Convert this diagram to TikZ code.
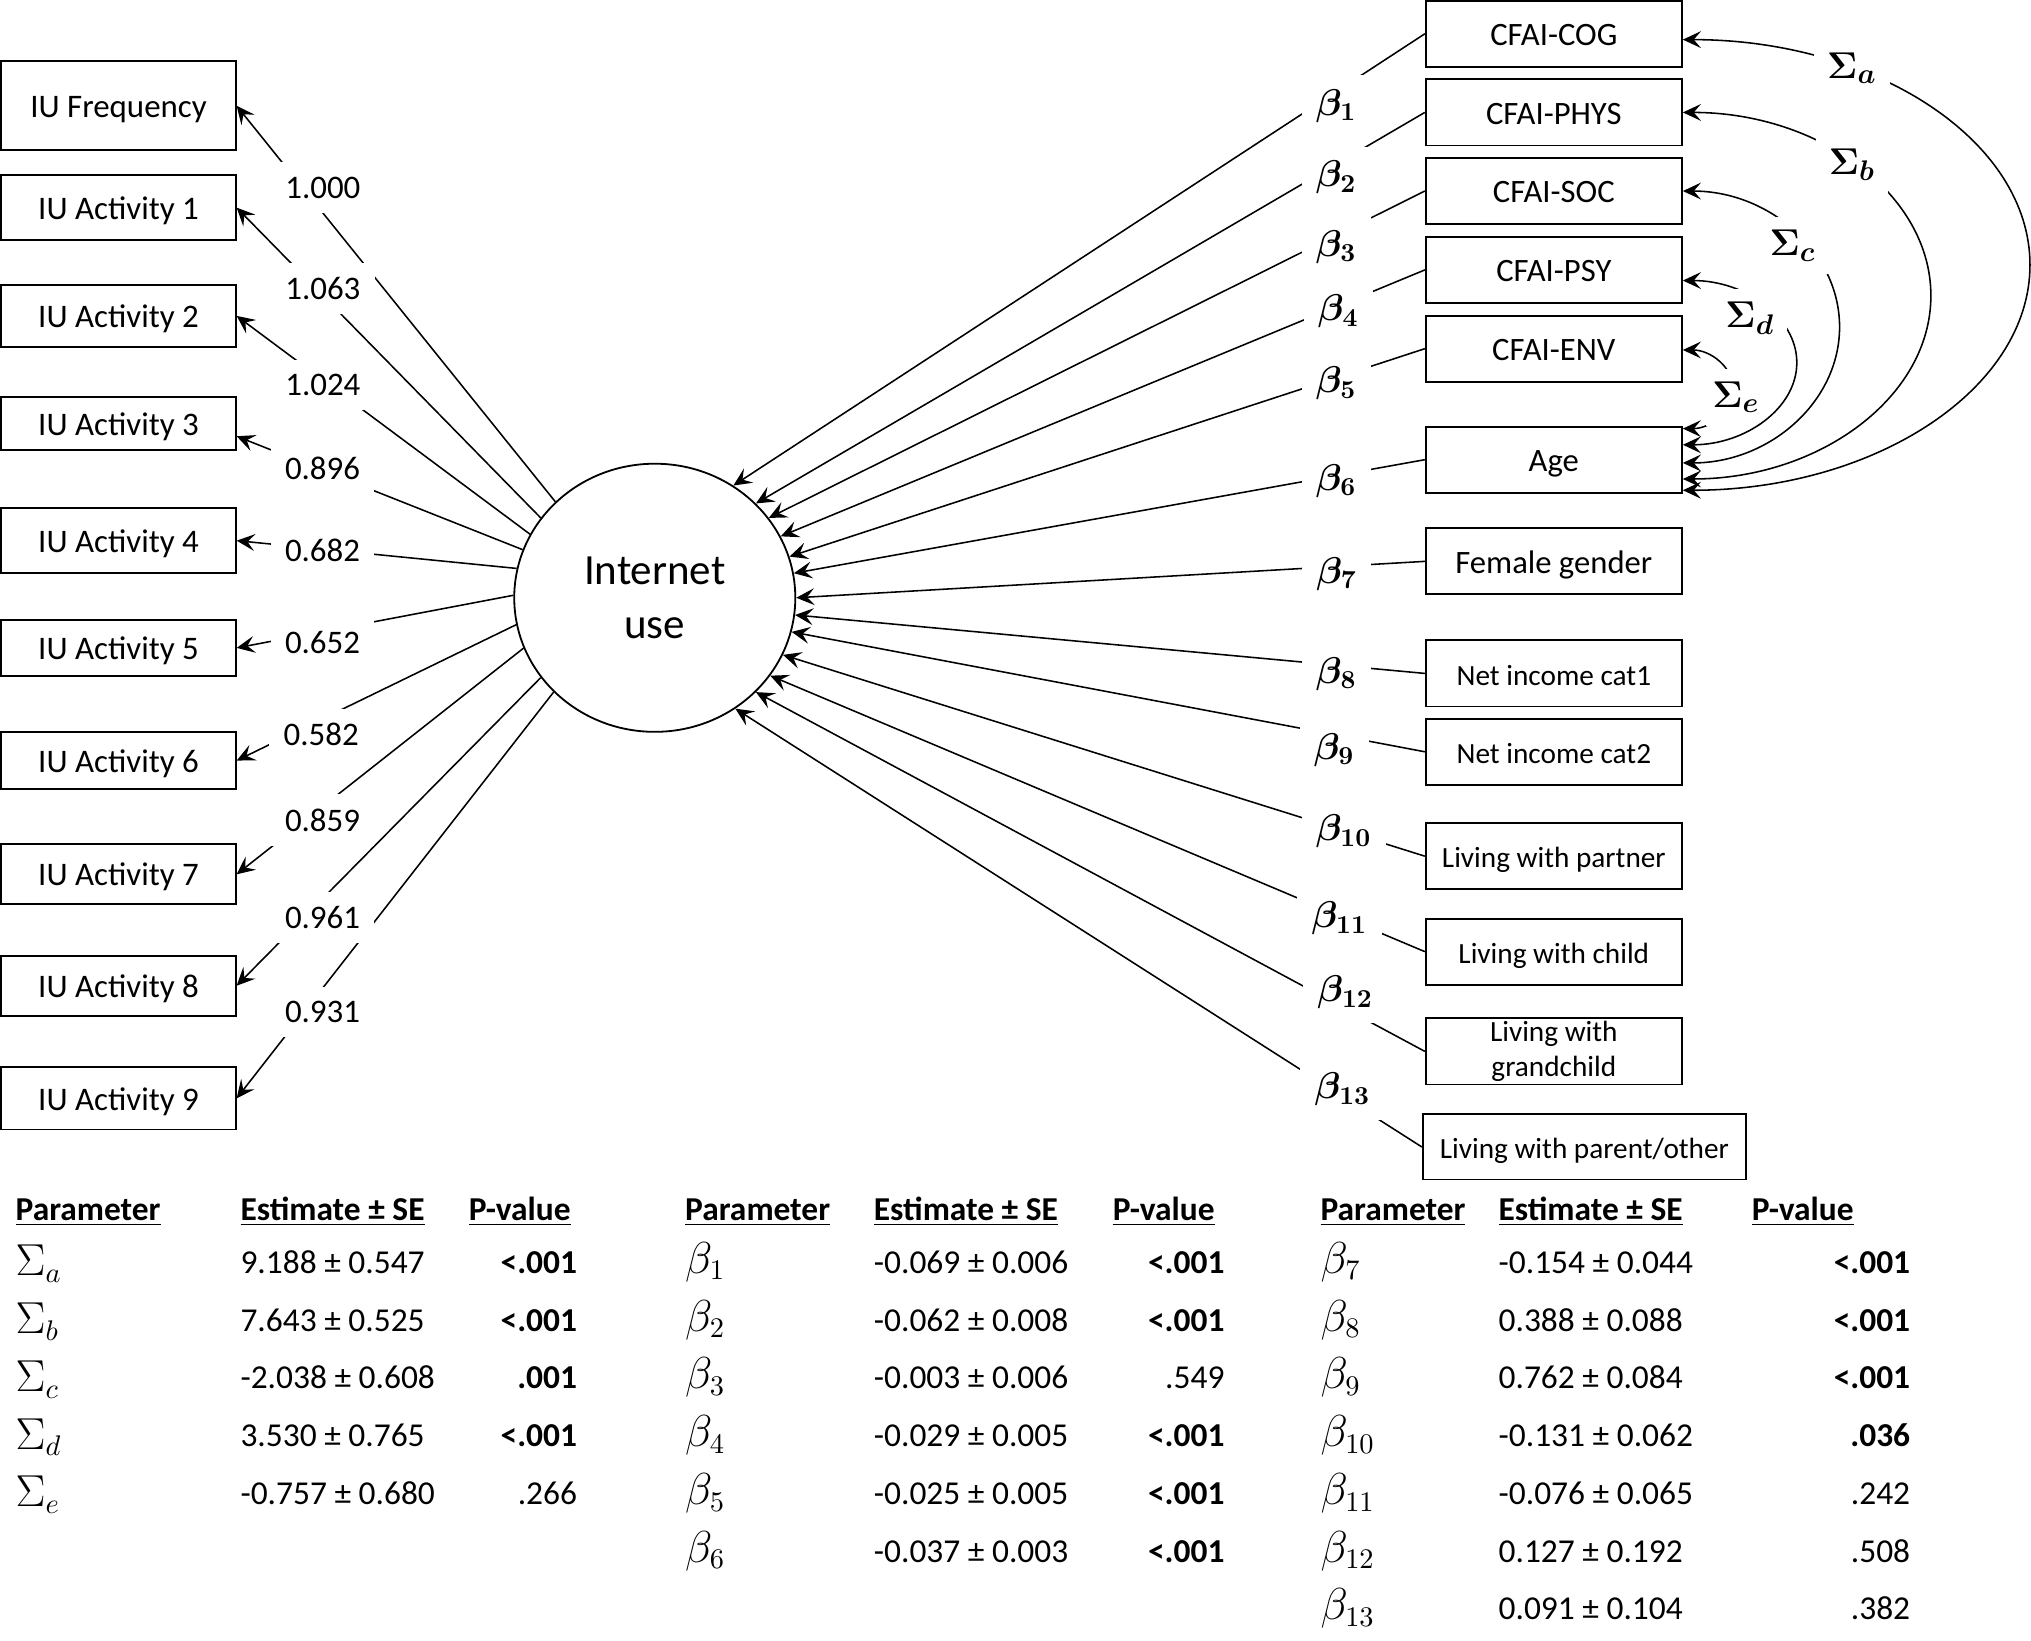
\documentclass[tikz,border=0pt]{standalone}
\usepackage{amsmath}
\usepackage{fontspec}
\setmainfont{Carlito}
\usepackage{bm}
\usetikzlibrary{arrows.meta,shapes.geometric,calc}
\tikzset{
  sem/.tip={Stealth[length=7pt,width=6.5pt,inset=2.8pt]},
  ln/.style={line width=0.6pt},
  arr/.style={ln,-{sem}},
  dbl/.style={ln,{sem}-{sem}},
  bx/.style={draw,line width=0.7pt,inner sep=0pt,align=center},
  tf/.style={text height=1.1em,text depth=0.2em},
  lbx/.style={bx,tf,minimum width=90.5pt,font=\fontsize{12.7}{15}\selectfont},
  rbx/.style={bx,minimum width=98.9pt,minimum height=25.5pt,font=\fontsize{12.6}{15}\selectfont},
  rsbx/.style={rbx,font=\fontsize{11.3}{13.3}\selectfont},
  wl/.style={fill=white,inner sep=5.5pt,font=\fontsize{12.7}{15}\selectfont},
  bl/.style={fill=white,inner sep=5.5pt,font=\fontsize{14.5}{16}\selectfont},
  sl/.style={fill=white,inner sep=5pt,font=\fontsize{15}{17}\selectfont},
  th/.style={inner sep=0pt,anchor=base west,font=\fontsize{12.9}{15}\selectfont\bfseries},
  tv/.style={inner sep=0pt,anchor=base west,font=\fontsize{12.9}{15}\selectfont},
  tp/.style={inner sep=0pt,anchor=base east,font=\fontsize{12.9}{15}\selectfont},
  tm/.style={inner sep=0pt,anchor=base west,font=\fontsize{16}{18}\selectfont}
}
\begin{document}
\begin{tikzpicture}[x=0.5pt,y=-0.5pt]
\useasboundingbox (0,0) rectangle (1568,1266.9);
\fill[white] (0,0) rectangle (1568,1266.9);

% latent variable
\node[draw,ellipse,line width=0.7pt,minimum width=108.5pt,minimum height=103.5pt,inner sep=0pt,align=center,font=\fontsize{16.6}{20.6}\selectfont] (iu) at (505.5,461.5) {Internet\\use};

% left indicators
\node[lbx,minimum height=34.4pt] (freq) at (91.5,81.7) {IU Frequency};
\node[lbx,minimum height=25pt] (a1) at (91.5,160.3) {IU Activity 1};
\node[lbx,minimum height=24.1pt] (a2) at (91.5,243.9) {IU Activity 2};
\node[lbx,minimum height=20.5pt] (a3) at (91.5,327.2) {IU Activity 3};
\node[lbx,minimum height=24.9pt] (a4) at (91.5,417.4) {IU Activity 4};
\node[lbx,minimum height=21.45pt] (a5) at (91.5,500.2) {IU Activity 5};
\node[lbx,minimum height=22.1pt] (a6) at (91.5,587.2) {IU Activity 6};
\node[lbx,minimum height=23.15pt] (a7) at (91.5,675) {IU Activity 7};
\node[lbx,minimum height=23.2pt] (a8) at (91.5,761) {IU Activity 8};
\node[lbx,minimum height=24pt] (a9) at (91.5,848) {IU Activity 9};

\draw[arr] (iu.136) -- (freq.east);
\draw[arr] (iu.145.8) -- (a1.east);
\draw[arr] (iu.153.3) -- (a2.east);
\draw[arr] (iu.160.6) -- ($(a3.east)+(0,9.6)$);
\draw[arr] (iu.168.2) -- (a4.east);
\draw[arr] (iu.179.7) -- (a5.east);
\draw[arr] (iu.191.3) -- (a6.east);
\draw[arr] (iu.201.9) -- (a7.east);
\draw[arr] (iu.215.7) -- (a8.east);
\draw[arr] (iu.223.9) -- (a9.east);

\node[wl] (l1) at (249.3,144.8) {1.000};
\node[wl] (l2) at (249.3,223) {1.063};
\node[wl] (l3) at (249.3,297) {1.024};
\node[wl] (l4) at (249,362) {0.896};
\node[wl] (l5) at (249,425) {0.682};
\node[wl] (l6) at (249,496) {0.652};
\node[wl] (l7) at (248,567) {0.582};
\node[wl] (l8) at (249,633) {0.859};
\node[wl] (l9) at (249,708.5) {0.961};
\node[wl] (l10) at (249,781) {0.931};

% right predictors
\node[rbx,tf] (cog) at (1199.6,26.1) {CFAI-COG};
\node[rbx,tf] (phys) at (1199.6,86.8) {CFAI-PHYS};
\node[rbx,tf] (soc) at (1199.6,147.5) {CFAI-SOC};
\node[rbx,tf] (psy) at (1199.6,208.4) {CFAI-PSY};
\node[rbx,tf] (env) at (1199.6,269.2) {CFAI-ENV};
\node[rbx,tf] (age) at (1199.6,354.9) {Age};
\node[rbx,tf] (fem) at (1199.6,433.4) {Female gender};
\node[rsbx,tf] (inc1) at (1199.6,519.9) {Net income cat1};
\node[rsbx,tf] (inc2) at (1199.6,580.4) {Net income cat2};
\node[rsbx,tf] (partner) at (1199.6,661) {Living with partner};
\node[rsbx,tf] (child) at (1199.6,734.7) {Living with child};
\node[rsbx] (grand) at (1199.6,811.7) {\raisebox{-2pt}{\shortstack{Living with\\[0.5pt]grandchild}}};
\node[rsbx,tf,minimum width=124.8pt,minimum height=25.15pt] (parent) at (1223.2,885.5) {Living with parent/other};

\draw[arr] (cog.west) -- (iu.55.5);
\draw[arr] (phys.west) -- (iu.43.6);
\draw[arr] (soc.west) -- (iu.35.5);
\draw[arr] (psy.west) -- (iu.26.4);
\draw[arr] (env.west) -- (iu.17.7);
\draw[arr] (age.west) -- (iu.10.5);
\draw[arr] (fem.west) -- (iu.0);
\draw[arr] (inc1.west) -- (iu.-7.3);
\draw[arr] (inc2.west) -- (iu.-14.7);
\draw[arr] (partner.west) -- (iu.-24.4);
\draw[arr] (child.west) -- (iu.-34.7);
\draw[arr] (grand.west) -- (iu.-43.8);
\draw[arr] (parent.west) -- (iu.-54.3);

\node[bl] (b1) at (1031.6,81.7) {$\bm{\beta}_{\bm{1}}$};
\node[bl] (b2) at (1031.6,137) {$\bm{\beta}_{\bm{2}}$};
\node[bl] (b3) at (1031.6,190.5) {$\bm{\beta}_{\bm{3}}$};
\node[bl] (b4) at (1033.2,240.6) {$\bm{\beta}_{\bm{4}}$};
\node[bl] (b5) at (1031.6,296) {$\bm{\beta}_{\bm{5}}$};
\node[bl] (b6) at (1031.6,371.2) {$\bm{\beta}_{\bm{6}}$};
\node[bl] (b7) at (1032,442.9) {$\bm{\beta}_{\bm{7}}$};
\node[bl] (b8) at (1031.7,520.4) {$\bm{\beta}_{\bm{8}}$};
\node[bl] (b9) at (1030,579) {$\bm{\beta}_{\bm{9}}$};
\node[bl] (b10) at (1037.3,642) {$\bm{\beta}_{\bm{10}}$};
\node[bl] (b11) at (1034.1,709.2) {$\bm{\beta}_{\bm{11}}$};
\node[bl] (b12) at (1038.6,766) {$\bm{\beta}_{\bm{12}}$};
\node[bl] (b13) at (1036.5,841) {$\bm{\beta}_{\bm{13}}$};

% covariances
\draw[dbl] ($(env.east)+(0,1)$) arc[start angle=90,end angle=-90,x radius=19.5pt,y radius=15.175pt];
\node[sl,inner xsep=2.5pt] (se) at (1340.3,306.7) {$\bm{\Sigma}_{\bm{e}}$};
\draw[dbl] ($(psy.east)+(0,8.2)$) arc[start angle=90,end angle=-90,x radius=44pt,y radius=31.7pt];
\node[sl] (sd) at (1351,245.7) {$\bm{\Sigma}_{\bm{d}}$};
\draw[dbl] (soc.east) arc[start angle=90,end angle=-90,x radius=60.5pt,y radius=52.475pt];
\node[sl] (sc) at (1384,189.5) {$\bm{\Sigma}_{\bm{c}}$};
\draw[dbl] (phys.east) arc[start angle=90,end angle=-90,x radius=95.75pt,y radius=70.75pt];
\node[sl] (sb) at (1429.8,127.2) {$\bm{\Sigma}_{\bm{b}}$};
\draw[dbl] ($(cog.east)+(0,4.5)$) arc[start angle=90,end angle=-90,x radius=134pt,y radius=86.975pt];
\node[sl] (sa) at (1429.8,52.8) {$\bm{\Sigma}_{\bm{a}}$};

% tables
\node[th] (h1a) at (11.7,941.9) {\underline{Parameter}};
\node[th] (h1b) at (185.3,941.9) {\underline{Estimate ± SE}};
\node[th] (h1c) at (361.5,941.9) {\underline{P-value}};
\node[th] (h2a) at (528.6,941.9) {\underline{Parameter}};
\node[th] (h2b) at (674.3,941.9) {\underline{Estimate ± SE}};
\node[th] (h2c) at (858.7,941.9) {\underline{P-value}};
\node[th] (h3a) at (1019.1,941.9) {\underline{Parameter}};
\node[th] (h3b) at (1156.6,941.9) {\underline{Estimate ± SE}};
\node[th] (h3c) at (1352,941.9) {\underline{P-value}};

\foreach \s/\e/\v [count=\i from 0] in {
  a/9.188 ± 0.547/\textbf{<.001},
  b/7.643 ± 0.525/\textbf{<.001},
  c/-2.038 ± 0.608/\textbf{.001},
  d/3.530 ± 0.765/\textbf{<.001},
  e/-0.757 ± 0.680/.266}{
  \node[tm] (tsp\i) at (11.7,{985+44.6*\i}) {$\Sigma_{\s}$};
  \node[tv] (tse\i) at (185.3,{983+44.6*\i}) {\e};
  \node[tp] (tsv\i) at (445.9,{983+44.6*\i}) {\v};
}
\foreach \s/\e/\v [count=\i from 0] in {
  1/-0.069 ± 0.006/\textbf{<.001},
  2/-0.062 ± 0.008/\textbf{<.001},
  3/-0.003 ± 0.006/.549,
  4/-0.029 ± 0.005/\textbf{<.001},
  5/-0.025 ± 0.005/\textbf{<.001},
  6/-0.037 ± 0.003/\textbf{<.001}}{
  \node[tm] (tbp\i) at (528.6,{983+44.6*\i}) {$\beta_{\s}$};
  \node[tv] (tbe\i) at (674.3,{983+44.6*\i}) {\e};
  \node[tp] (tbv\i) at (945.7,{983+44.6*\i}) {\v};
}
\foreach \s/\e/\v [count=\i from 0] in {
  7/-0.154 ± 0.044/\textbf{<.001},
  8/0.388 ± 0.088/\textbf{<.001},
  9/0.762 ± 0.084/\textbf{<.001},
  10/-0.131 ± 0.062/\textbf{.036},
  11/-0.076 ± 0.065/.242,
  12/0.127 ± 0.192/.508,
  13/0.091 ± 0.104/.382}{
  \node[tm] (tcp\i) at (1019.1,{983+44.6*\i}) {$\beta_{\s}$};
  \node[tv] (tce\i) at (1156.6,{983+44.6*\i}) {\e};
  \node[tp] (tcv\i) at (1475.1,{983+44.6*\i}) {\v};
}
\end{tikzpicture}
\end{document}
